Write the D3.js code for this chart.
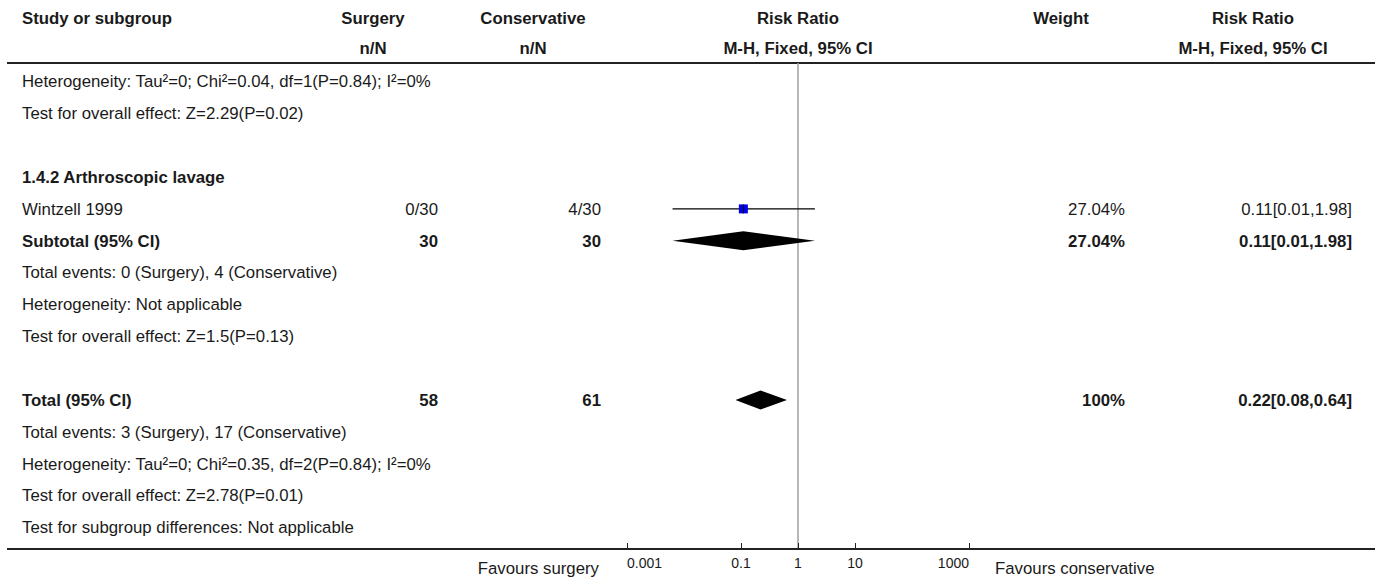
<!DOCTYPE html>
<html>
<head>
<meta charset="utf-8">
<script src="https://cdn.jsdelivr.net/npm/d3@7"></script>
<style>
  html, body { margin: 0; padding: 0; background: #fff; }
</style>
</head>
<body>
<svg id="chart" width="1375" height="581"></svg>
<script>
// ---------------- data ----------------
const headerRow1 = ["Study or subgroup", "Surgery", "Conservative", "Risk Ratio", "Weight", "Risk Ratio"];
const headerRow2 = ["", "n/N", "n/N", "M-H, Fixed, 95% CI", "", "M-H, Fixed, 95% CI"];

// row kinds: text | heading | study | subtotal | blank
const rowKinds  = ["text", "text", "blank", "heading", "study", "subtotal", "text", "text", "text", "blank", "subtotal", "text", "text", "text", "text"];
const rowLabels = [
  "Heterogeneity: Tau\u00B2=0; Chi\u00B2=0.04, df=1(P=0.84); I\u00B2=0%",
  "Test for overall effect: Z=2.29(P=0.02)",
  "",
  "1.4.2 Arthroscopic lavage",
  "Wintzell 1999",
  "Subtotal (95% CI)",
  "Total events: 0 (Surgery), 4 (Conservative)",
  "Heterogeneity: Not applicable",
  "Test for overall effect: Z=1.5(P=0.13)",
  "",
  "Total (95% CI)",
  "Total events: 3 (Surgery), 17 (Conservative)",
  "Heterogeneity: Tau\u00B2=0; Chi\u00B2=0.35, df=2(P=0.84); I\u00B2=0%",
  "Test for overall effect: Z=2.78(P=0.01)",
  "Test for subgroup differences: Not applicable"
];
const rowSurgery      = ["", "", "", "", "0/30", "30", "", "", "", "", "58", "", "", "", ""];
const rowConservative = ["", "", "", "", "4/30", "30", "", "", "", "", "61", "", "", "", ""];
const rowWeight       = ["", "", "", "", "27.04%", "27.04%", "", "", "", "", "100%", "", "", "", ""];
const rowRRText       = ["", "", "", "", "0.11[0.01,1.98]", "0.11[0.01,1.98]", "", "", "", "", "0.22[0.08,0.64]", "", "", "", ""];
const rowEst   = [null, null, null, null, 0.11,   0.11,   null, null, null, null, 0.22, null, null, null, null];
const rowLower = [null, null, null, null, 0.0063, 0.0063, null, null, null, null, 0.08, null, null, null, null];
const rowUpper = [null, null, null, null, 1.98,   1.98,   null, null, null, null, 0.64, null, null, null, null];

const axisTicks = [0.001, 0.1, 1, 10, 1000];
const axisTickLabels = ["0.001", "0.1", "1", "10", "1000"];
const favoursLeft = "Favours surgery";
const favoursRight = "Favours conservative";

// ---------------- layout ----------------
const svg = d3.select("#chart");
const W = 1375;
const FONT = '"Liberation Sans", Arial, sans-serif';
const fs = 16.8;
const textColor = "#1a1a1a";

const x = d3.scaleLog().domain([0.001, 1000]).range([627, 969]);
const y = d3.scaleLinear().domain([0, rowLabels.length - 1]).range([81.5, 81.5 + 31.85 * (rowLabels.length - 1)]);

const colLeft = 22;
const colSurgeryHead = 373, colSurgeryVal = 438;
const colConsHead = 533, colConsVal = 601;
const colWeightHead = 1061, colWeightVal = 1125;
const colRRHead = 1253, colRRVal = 1352;
const headerLineY = 63;
const axisY = 549;

function styleText(sel, size, weight) {
  return sel.attr("font-family", FONT).attr("font-size", size)
    .attr("font-weight", weight).attr("fill", textColor);
}

// header
const hdrY = [18, 48];
const hdrX = [colLeft, colSurgeryHead, colConsHead, x(1), colWeightHead, colRRHead];
const hdrAnchor = ["start", "middle", "middle", "middle", "middle", "middle"];
[headerRow1, headerRow2].forEach((row, r) => {
  svg.append("g").selectAll("text").data(row).join("text")
    .attr("x", (d, i) => hdrX[i])
    .attr("y", hdrY[r])
    .attr("dy", "0.35em")
    .attr("text-anchor", (d, i) => hdrAnchor[i])
    .call(styleText, fs, "bold")
    .text(d => d);
});

svg.append("line")
  .attr("x1", 7).attr("x2", W).attr("y1", headerLineY).attr("y2", headerLineY)
  .attr("stroke", "#222").attr("stroke-width", 2);

// null line
svg.append("line")
  .attr("x1", x(1)).attr("x2", x(1)).attr("y1", headerLineY).attr("y2", axisY)
  .attr("stroke", "#a0a0a0").attr("stroke-width", 1.5);

// rows
const rows = d3.range(rowLabels.length);
const isBold = i => rowKinds[i] === "heading" || rowKinds[i] === "subtotal";
const g = svg.append("g");

g.selectAll("text.lab").data(rows.filter(i => rowLabels[i] !== "")).join("text").attr("class", "lab")
  .attr("x", colLeft).attr("y", i => y(i)).attr("dy", "0.35em")
  .each(function(i) { d3.select(this).call(styleText, fs, isBold(i) ? "bold" : "normal"); })
  .text(i => rowLabels[i]);

[[rowSurgery, colSurgeryVal], [rowConservative, colConsVal], [rowWeight, colWeightVal], [rowRRText, colRRVal]].forEach(([arr, cx]) => {
  g.append("g").selectAll("text").data(rows.filter(i => arr[i] !== "")).join("text")
    .attr("x", cx).attr("y", i => y(i)).attr("dy", "0.35em")
    .attr("text-anchor", "end")
    .each(function(i) { d3.select(this).call(styleText, fs, isBold(i) ? "bold" : "normal"); })
    .text(i => arr[i]);
});

// study CI lines and squares
const studyRows = rows.filter(i => rowKinds[i] === "study");
g.selectAll("line.ci").data(studyRows).join("line").attr("class", "ci")
  .attr("x1", i => x(rowLower[i])).attr("x2", i => x(rowUpper[i]))
  .attr("y1", i => y(i)).attr("y2", i => y(i))
  .attr("stroke", "#000").attr("stroke-width", 1.3);
const sq = 9;
g.selectAll("rect.sq").data(studyRows).join("rect").attr("class", "sq")
  .attr("x", i => x(rowEst[i]) - sq / 2).attr("y", i => y(i) - sq / 2)
  .attr("width", sq).attr("height", sq)
  .attr("fill", "#0000ee");
g.selectAll("line.est").data(studyRows).join("line").attr("class", "est")
  .attr("x1", i => x(rowEst[i])).attr("x2", i => x(rowEst[i]))
  .attr("y1", i => y(i) - sq / 2).attr("y2", i => y(i) + sq / 2)
  .attr("stroke", "#000").attr("stroke-width", 1);

// diamonds
const diaRows = rows.filter(i => rowKinds[i] === "subtotal");
const dh = 9.5;
g.selectAll("path.dia").data(diaRows).join("path").attr("class", "dia")
  .attr("d", i => {
    const yy = y(i);
    return `M${x(rowLower[i])},${yy}L${x(rowEst[i])},${yy - dh}L${x(rowUpper[i])},${yy}L${x(rowEst[i])},${yy + dh}Z`;
  })
  .attr("fill", "#000");

// bottom axis
svg.append("line")
  .attr("x1", 7).attr("x2", W).attr("y1", axisY).attr("y2", axisY)
  .attr("stroke", "#222").attr("stroke-width", 2);

const axis = d3.axisTop(x).tickValues(axisTicks).tickSize(6).tickFormat(() => "");
const ag = svg.append("g").attr("transform", `translate(0,${axisY})`).call(axis);
ag.select(".domain").remove();
ag.selectAll(".tick line").attr("stroke", "#222");

const nT = axisTicks.length;
svg.append("g").selectAll("text").data(axisTicks).join("text")
  .attr("x", d => x(d)).attr("y", 563).attr("dy", "0.35em")
  .attr("text-anchor", (d, i) => i === 0 ? "start" : (i === nT - 1 ? "end" : "middle"))
  .call(styleText, 14, "normal")
  .text((d, i) => axisTickLabels[i]);

svg.append("text").attr("x", 599).attr("y", 568).attr("dy", "0.35em")
  .attr("text-anchor", "end").call(styleText, fs, "normal").text(favoursLeft);
svg.append("text").attr("x", 995).attr("y", 568).attr("dy", "0.35em")
  .attr("text-anchor", "start").call(styleText, fs, "normal").text(favoursRight);
</script>
</body>
</html>
